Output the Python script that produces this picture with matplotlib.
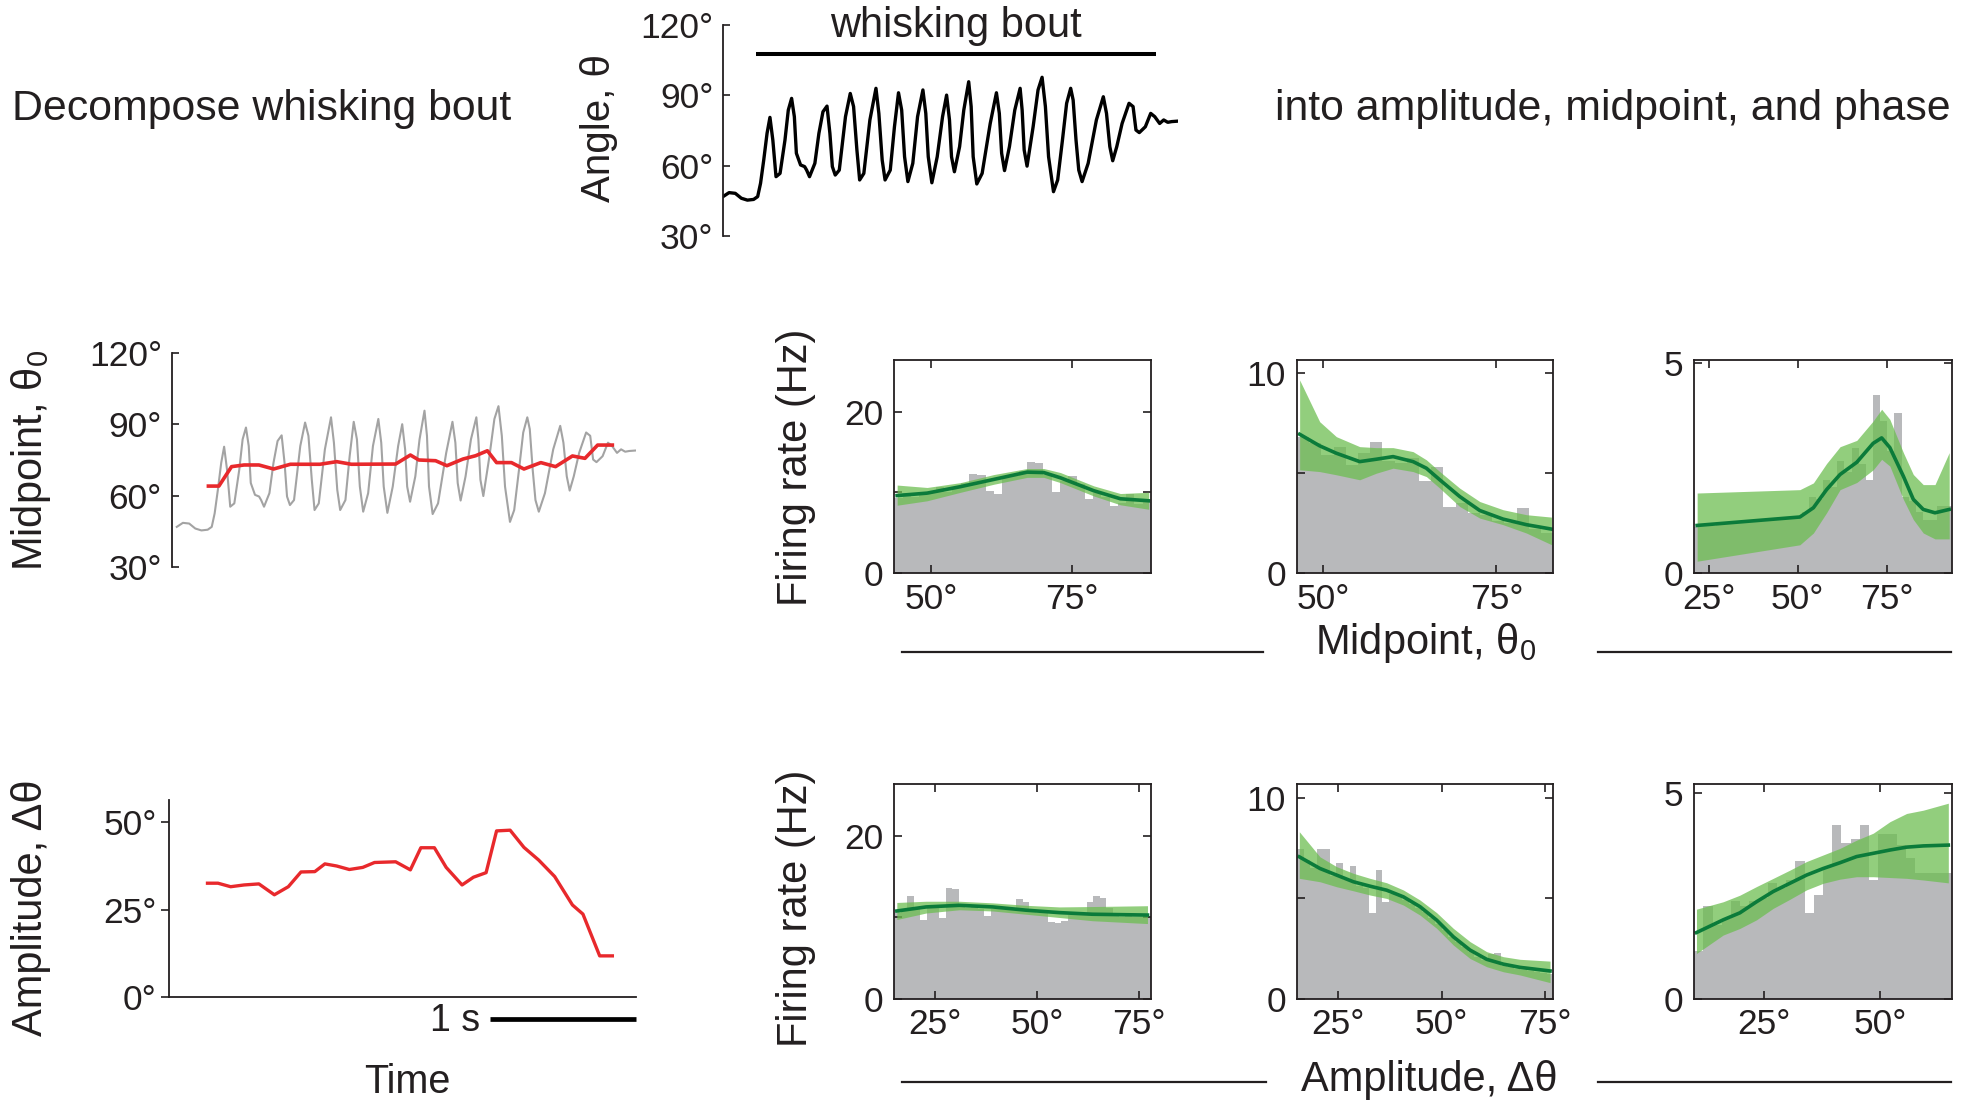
import numpy as np
import matplotlib
matplotlib.use("Agg")
import matplotlib.pyplot as plt
from matplotlib.lines import Line2D

plt.rcParams["font.family"] = ["Liberation Sans", "DejaVu Sans"]
plt.rcParams["mathtext.fontset"] = "custom"
plt.rcParams["mathtext.rm"] = "Liberation Sans"
plt.rcParams["mathtext.it"] = "Liberation Sans:italic"

# ---------------- whisker angle during one bout (s, deg) ----------------
angle_t = [0.000, 0.042, 0.085, 0.127, 0.169, 0.212, 0.240, 0.260, 0.282, 0.305,
           0.325, 0.345, 0.367, 0.395, 0.429, 0.452, 0.475, 0.494, 0.508, 0.537,
           0.565, 0.579, 0.599, 0.636, 0.664, 0.692, 0.720, 0.740, 0.757, 0.777,
           0.805, 0.848, 0.881, 0.904, 0.927, 0.946, 0.975, 1.017, 1.059, 1.079,
           1.102, 1.122, 1.158, 1.187, 1.215, 1.237, 1.257, 1.280, 1.314, 1.347,
           1.384, 1.404, 1.421, 1.446, 1.483, 1.520, 1.548, 1.568, 1.582, 1.602,
           1.638, 1.667, 1.701, 1.718, 1.732, 1.757, 1.794, 1.850, 1.893, 1.913,
           1.929, 1.949, 1.983, 2.020, 2.057, 2.071, 2.085, 2.105, 2.147, 2.181,
           2.209, 2.232, 2.254, 2.288, 2.317, 2.350, 2.379, 2.407, 2.424, 2.444,
           2.463, 2.486, 2.528, 2.585, 2.633, 2.655, 2.678, 2.698, 2.726, 2.763,
           2.811, 2.839, 2.859, 2.882, 2.924, 2.961, 2.989, 3.023, 3.051, 3.079,
           3.107, 3.150]
angle_deg = [46.8, 48.5, 48.2, 46.1, 45.3, 45.6, 46.8, 52.5, 62.4, 73.8,
             80.6, 70.9, 55.3, 56.7, 70.9, 83.7, 88.7, 80.9, 65.3, 60.3,
             59.6, 58.1, 55.3, 61.0, 73.8, 83.0, 85.4, 73.8, 59.6, 56.0,
             58.1, 80.9, 90.8, 85.2, 66.7, 53.9, 56.7, 79.5, 93.0, 82.3,
             62.4, 53.9, 58.1, 76.6, 91.1, 83.7, 63.8, 53.2, 61.0, 80.9,
             92.3, 82.3, 63.8, 52.7, 63.8, 80.9, 90.1, 79.5, 63.8, 57.4,
             68.1, 83.7, 95.8, 85.2, 63.8, 52.2, 56.7, 78.0, 91.1, 82.3,
             65.3, 57.9, 68.1, 83.7, 93.0, 83.7, 66.7, 59.8, 76.6, 92.3,
             97.7, 85.2, 63.8, 48.9, 53.9, 70.9, 86.6, 93.0, 88.0, 70.9,
             58.1, 53.2, 61.0, 79.5, 89.4, 82.3, 68.1, 62.1, 68.1, 78.0,
             86.6, 85.2, 75.2, 74.1, 76.6, 82.3, 80.9, 78.0, 79.5, 78.5,
             78.8, 79.0]
bout_start, bout_end = 0.23, 3.0

# cycle-by-cycle midpoint and amplitude
mid_t = [0.217, 0.289, 0.376, 0.462, 0.564, 0.665, 0.780, 0.983, 1.098, 1.199,
         1.503, 1.604, 1.662, 1.777, 1.855, 1.965, 2.052, 2.133, 2.196, 2.298,
         2.384, 2.500, 2.601, 2.717, 2.803, 2.890, 2.991]
mid_deg = [64.0, 64.0, 72.2, 72.9, 72.9, 71.2, 73.2, 73.2, 74.3, 73.2,
           73.3, 77.1, 75.0, 74.7, 72.6, 75.4, 76.8, 78.9, 73.9, 73.9,
           71.2, 73.9, 72.2, 76.7, 75.7, 81.3, 81.3]
amp_t = [0.211, 0.283, 0.370, 0.462, 0.564, 0.670, 0.766, 0.853, 0.948, 1.017,
         1.098, 1.185, 1.277, 1.358, 1.503, 1.604, 1.676, 1.769, 1.850, 1.959,
         2.037, 2.124, 2.196, 2.289, 2.384, 2.485, 2.595, 2.717, 2.789, 2.904,
         2.991]
amp_deg = [32.5, 32.5, 31.5, 32.0, 32.3, 29.2, 31.5, 35.7, 35.8, 38.0,
           37.4, 36.4, 37.0, 38.4, 38.6, 36.3, 42.6, 42.6, 37.0, 32.0,
           34.2, 35.5, 47.4, 47.6, 42.7, 39.1, 34.4, 26.3, 23.7, 11.8,
           11.8]

# ---------------- tuning curves: midpoint, three cells ----------------
mp1_hist = [9.3, 9.9, 9.4, 9.7, 10.1, 10.6, 10.0, 10.5, 11.2, 12.3, 12.1, 10.2, 9.8,
            11.9, 12.0, 12.6, 13.7, 13.6, 12.2, 10.1, 11.4, 12.0, 11.0, 9.2, 9.9,
            9.4, 8.3, 8.7, 9.8, 8.6, 8.8]
mp1_x = [43.97, 49.29, 55.2, 61.11, 67.02, 69.98, 72.93, 78.84, 83.57, 88.59]
mp1_fit = [9.6, 9.9, 10.7, 11.6, 12.5, 12.45, 11.8, 10.2, 9.2, 8.95]
mp1_hi = [10.9, 10.6, 11.2, 12.2, 12.95, 12.95, 12.45, 10.8, 9.85, 10.0]
mp1_lo = [8.4, 8.95, 10.0, 11.0, 11.85, 11.85, 11.2, 9.55, 8.45, 7.9]

mp2_hist = [6.8, 6.5, 5.9, 6.3, 5.4, 6.0, 6.55, 5.6, 5.5, 5.75, 4.6, 5.3, 3.3, 3.5,
            3.0, 2.9, 2.6, 2.5, 3.25, 2.2, 2.0]
mp2_x = [46.63, 49.52, 51.92, 55.29, 57.69, 60.1, 62.98, 64.9, 66.83, 69.71, 72.6,
         75.96, 79.33, 82.93]
mp2_fit = [6.95, 6.37, 6.0, 5.58, 5.7, 5.83, 5.58, 5.25, 4.67, 3.83, 3.13, 2.7, 2.42, 2.2]
mp2_hi = [9.67, 7.58, 6.83, 6.33, 6.28, 6.28, 6.08, 5.67, 5.08, 4.25, 3.58, 3.17, 2.92, 2.8]
mp2_lo = [5.17, 5.08, 4.92, 4.67, 5.0, 5.25, 5.08, 4.83, 4.25, 3.33, 2.75, 2.42, 2.0, 1.42]

mp3_hist = [1.1, 1.15, 1.12, 1.18, 1.2, 1.16, 1.22, 1.25, 1.2, 1.27, 1.3, 1.26, 1.32,
            1.3, 1.35, 1.45, 1.8, 1.75, 2.2, 2.05, 2.65, 2.4, 2.98, 2.6, 2.2, 4.22,
            3.6, 2.9, 3.79, 1.8, 1.72, 1.45, 1.27, 1.27, 1.59, 1.59]
mp3_x = [21.7, 50.6, 54.4, 58.1, 61.9, 66.6, 71.2, 73.6, 75.9, 79.7, 82.5, 85.3, 88.6, 92.6]
mp3_fit = [1.13, 1.33, 1.55, 1.98, 2.34, 2.63, 3.08, 3.21, 2.98, 2.3, 1.75, 1.51, 1.43, 1.51]
mp3_hi = [1.9, 1.98, 2.14, 2.6, 3.0, 3.15, 3.61, 3.89, 3.65, 2.86, 2.34, 2.1, 2.1, 2.86]
mp3_lo = [0.28, 0.67, 0.95, 1.43, 1.98, 2.15, 2.45, 2.7, 2.54, 1.75, 1.27, 0.95, 0.81, 0.81]

# ---------------- tuning curves: amplitude, three cells ----------------
am1_hist = [10.6, 11.0, 12.7, 11.1, 9.75, 11.2, 11.3, 9.9, 13.6, 13.5, 11.3, 11.2,
            11.3, 11.1, 10.2, 11.1, 11.0, 11.1, 10.9, 12.25, 11.9, 10.7, 10.6, 10.6,
            9.5, 9.3, 9.6, 10.3, 10.3, 10.4, 11.9, 12.7, 12.4, 11.2, 10.2, 10.1, 10.2,
            10.1, 10.0, 10.0]
am1_x = [15.62, 22.8, 30.95, 39.11, 47.27, 55.43, 63.58, 77.04]
am1_fit = [10.8, 11.3, 11.5, 11.3, 10.9, 10.6, 10.4, 10.3]
am1_hi = [11.85, 12.0, 12.0, 11.8, 11.5, 11.3, 11.35, 11.45]
am1_lo = [9.75, 10.55, 10.95, 10.8, 10.4, 10.0, 9.6, 9.25]

am2_hist = [7.43, 6.9, 6.5, 7.43, 7.43, 6.1, 6.73, 5.9, 6.6, 5.6, 5.5, 4.28, 6.4,
            4.83, 5.2, 5.1, 4.9, 4.7, 4.5, 4.3, 4.0, 3.7, 3.4, 3.05, 2.8, 2.55, 2.3,
            2.1, 1.95, 2.2, 2.29, 1.65, 1.6, 1.5, 1.45, 1.4, 1.35, 1.3, 1.25]
am2_x = [15.56, 20.56, 24.6, 28.63, 32.66, 36.69, 40.73, 44.76, 48.79, 52.82, 56.86,
         60.89, 64.92, 68.95, 76.21]
am2_fit = [7.06, 6.48, 6.15, 5.82, 5.6, 5.4, 5.07, 4.58, 3.91, 3.08, 2.42, 1.96, 1.72, 1.56, 1.38]
am2_hi = [8.31, 7.06, 6.57, 6.24, 5.99, 5.77, 5.41, 4.91, 4.28, 3.5, 2.84, 2.34, 2.09, 1.96, 1.87]
am2_lo = [5.99, 5.82, 5.57, 5.37, 5.16, 4.99, 4.66, 4.16, 3.5, 2.67, 2.0, 1.59, 1.34, 1.18, 0.8]

am3_hist = [1.15, 2.26, 1.8, 1.95, 2.39, 2.26, 2.39, 2.45, 2.82, 2.7, 2.9, 3.36, 2.08,
            2.52, 3.2, 4.23, 3.8, 3.9, 4.23, 2.9, 4.0, 4.0, 3.75, 3.42, 3.05, 3.05,
            3.05, 3.05]
am3_x = [10.37, 16.14, 19.74, 23.34, 26.95, 30.55, 34.15, 37.75, 41.36, 44.96, 48.56,
         52.16, 55.77, 59.37, 64.77]
am3_fit = [1.61, 1.92, 2.09, 2.36, 2.61, 2.81, 3.01, 3.17, 3.31, 3.46, 3.54, 3.62, 3.69, 3.72, 3.74]
am3_hi = [2.18, 2.36, 2.52, 2.73, 2.93, 3.13, 3.34, 3.5, 3.66, 3.86, 4.03, 4.31, 4.51, 4.59, 4.76]
am3_lo = [1.1, 1.55, 1.71, 1.92, 2.2, 2.42, 2.65, 2.81, 2.91, 2.97, 2.97, 2.95, 2.93, 2.89, 2.82]

# ---------------- figure ----------------
W, H = 1965, 1110
INK = "#231f20"
GRAY_HIST = "#b8b9bb"
BAND = "#6cbe50"
FIT = "#0b7b3a"
RED = "#e8292c"
TRACE_GRAY = "#a3a3a3"
TICK_FS = 25.5

fig = plt.figure(figsize=(W / 100, H / 100), dpi=100)


def axes_px(left, top, right, bottom):
    return fig.add_axes([left / W, 1 - bottom / H, (right - left) / W, (bottom - top) / H])


def hline_px(x0, x1, y, lw=1.6):
    fig.add_artist(Line2D([x0 / W, x1 / W], [1 - y / H, 1 - y / H],
                          transform=fig.transFigure, color=INK, lw=lw))


def left_only(ax):
    for s in ("top", "right", "bottom"):
        ax.spines[s].set_visible(False)
    ax.spines["left"].set_linewidth(1.3)
    ax.spines["left"].set_color(INK)


# headline texts
fig.text(12.5 / W, 1 - 109 / H, "Decompose whisking bout", fontsize=30.8,
         ha="left", va="center", color=INK)
fig.text(1951 / W, 1 - 109 / H, "into amplitude, midpoint, and phase", fontsize=30.8,
         ha="right", va="center", color=INK)

# raw angle trace
ax = axes_px(723, 25, 1178, 236)
ax.plot(angle_t, angle_deg, color="black", lw=2.4, solid_joinstyle="round")
ax.set_xlim(0, 3.15)
ax.set_ylim(30, 120)
left_only(ax)
ax.set_xticks([])
ax.set_yticks([30, 60, 90, 120])
ax.set_yticklabels(["30°", "60°", "90°", "120°"])
ax.tick_params(axis="y", direction="in", length=5, width=1.2, labelsize=TICK_FS, pad=7,
               colors=INK)
ax.plot([bout_start, bout_end], [107.6, 107.6], color="black", lw=2.9,
        solid_capstyle="butt", clip_on=False)
ax.text((bout_start + bout_end) / 2, 119.6, "whisking bout", ha="center", va="center",
        fontsize=30, color=INK)
fig.text(599 / W, 1 - 128 / H, "Angle, θ", rotation=90, fontsize=29,
         ha="center", va="center", color=INK)

# midpoint over the bout
ax = axes_px(171.7, 353.3, 635.5, 566.7)
ax.plot(angle_t, angle_deg, color=TRACE_GRAY, lw=1.5)
ax.plot(mid_t, mid_deg, color=RED, lw=2.6)
ax.set_xlim(-0.035, 3.15)
ax.set_ylim(30, 120)
left_only(ax)
ax.set_xticks([])
ax.set_yticks([30, 60, 90, 120])
ax.set_yticklabels(["30°", "60°", "90°", "120°"])
ax.tick_params(axis="y", direction="in", length=5, width=1.2, labelsize=TICK_FS, pad=7,
               colors=INK)
fig.text(31 / W, 1 - 460 / H, "Midpoint, θ$_0$", rotation=90, fontsize=30,
         ha="center", va="center", color=INK)

# amplitude over the bout
ax = axes_px(169.2, 800, 635.5, 997.3)
ax.plot(amp_t, amp_deg, color=RED, lw=2.4)
ax.set_xlim(-0.052, 3.15)
ax.set_ylim(0, 56.2)
for s in ("top", "right"):
    ax.spines[s].set_visible(False)
for s in ("left", "bottom"):
    ax.spines[s].set_linewidth(1.3)
    ax.spines[s].set_color(INK)
ax.set_xticks([])
ax.set_yticks([0, 25, 50])
ax.set_yticklabels(["0°", "25°", "50°"])
ax.tick_params(axis="y", direction="out", length=6, width=1.2, labelsize=TICK_FS, pad=3,
               colors=INK)
ax.plot([2.15, 3.15], [-6.2, -6.2], color="black", lw=3.4, solid_capstyle="butt",
        clip_on=False)
ax.text(2.08, -6.8, "1 s", ha="right", va="center", fontsize=27, color=INK)
fig.text(31 / W, 1 - 908 / H, "Amplitude, Δθ", rotation=90, fontsize=30,
         ha="center", va="center", color=INK)
fig.text(407 / W, 1 - 1082 / H, "Time", fontsize=28.5, ha="center", va="center",
         color=INK)

# tuning panels
cols = [(894.5, 1151), (1297, 1553.3), (1694.3, 1951.7)]
rows = [(360, 573), (784.3, 998.7)]

tuning = [
    (0, 0, mp1_hist, mp1_x, mp1_fit, mp1_lo, mp1_hi, (43.5, 89), (0, 26.4),
     [50, 75], [0, 10, 20], ["0", "", "20"]),
    (0, 1, mp2_hist, mp2_x, mp2_fit, mp2_lo, mp2_hi, (46.25, 83.2), (0, 10.67),
     [50, 75], [0, 5, 10], ["0", "", "10"]),
    (0, 2, mp3_hist, mp3_x, mp3_fit, mp3_lo, mp3_hi, (20.9, 93.3), (0, 5.06),
     [25, 50, 75], [0, 5], ["0", "5"]),
    (1, 0, am1_hist, am1_x, am1_fit, am1_lo, am1_hi, (15.05, 77.9), (0, 26.4),
     [25, 50, 75], [0, 10, 20], ["0", "", "20"]),
    (1, 1, am2_hist, am2_x, am2_fit, am2_lo, am2_hi, (15.0, 77.0), (0, 10.67),
     [25, 50, 75], [0, 5, 10], ["0", "", "10"]),
    (1, 2, am3_hist, am3_x, am3_fit, am3_lo, am3_hi, (9.9, 65.5), (0, 5.22),
     [25, 50], [0, 5], ["0", "5"]),
]

for r, c, hist, xs, fit, lo, hi, xlim, ylim, xt, yt, ytl in tuning:
    (l, rr), (t, b) = cols[c], rows[r]
    ax = axes_px(l, t, rr, b)
    edges = np.linspace(xlim[0], xlim[1], len(hist) + 1)
    ax.bar(edges[:-1], hist, width=np.diff(edges), align="edge", color=GRAY_HIST,
           edgecolor="none", zorder=1)
    ax.fill_between(xs, lo, hi, color=BAND, alpha=0.74, lw=0, zorder=2)
    ax.plot(xs, fit, color=FIT, lw=2.6, zorder=3, solid_joinstyle="round")
    ax.set_xlim(*xlim)
    ax.set_ylim(*ylim)
    ax.set_xticks(xt)
    ax.set_xticklabels([f"{v}°" for v in xt])
    ax.set_yticks(yt)
    ax.set_yticklabels(ytl)
    for s in ax.spines.values():
        s.set_linewidth(1.3)
        s.set_color(INK)
        s.set_zorder(4)
    ax.tick_params(direction="in", length=6, width=1.2, top=True, right=True,
                   labelsize=TICK_FS, colors=INK)
    ax.tick_params(axis="y", pad=8)
    ax.tick_params(axis="x", pad=7)

for yc in (467, 908):
    fig.text(796 / W, 1 - yc / H, "Firing rate (Hz)", rotation=90, fontsize=30,
             ha="center", va="center", color=INK)

# shared x-axis captions for each row of tuning panels
fig.text(1426 / W, 1 - 643 / H, "Midpoint, θ$_0$", fontsize=30, ha="center",
         va="center", color=INK)
hline_px(902, 1263, 651.7)
hline_px(1598, 1951, 651.7)
fig.text(1429 / W, 1 - 1080 / H, "Amplitude, Δθ", fontsize=30, ha="center",
         va="center", color=INK)
hline_px(902, 1266, 1081.5)
hline_px(1598, 1951, 1081.5)

fig.savefig("out.png", dpi=100, facecolor="white")
